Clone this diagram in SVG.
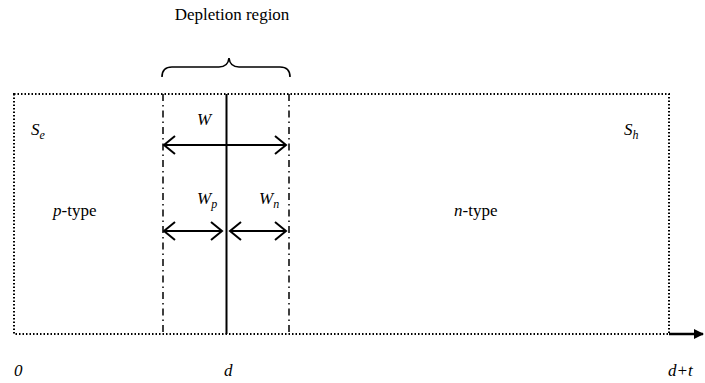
<svg xmlns="http://www.w3.org/2000/svg" width="705" height="383" viewBox="0 0 705 383">
<defs>
<marker id="tri" viewBox="0 0 10 10" refX="9" refY="5" markerWidth="10" markerHeight="10" markerUnits="userSpaceOnUse" orient="auto"><path d="M0,0L10,5L0,10Z" fill="#000"/></marker>
</defs>
<rect width="705" height="383" fill="#fff"/>
<g id="box"><rect x="14" y="94" width="655" height="240" fill="none" stroke="#000" stroke-width="2" stroke-dasharray="1.5 2"/></g>
<g id="boundaries" fill="none" stroke="#000">
<line x1="163" y1="94" x2="163" y2="334" stroke-width="1.5" stroke-dasharray="7 4 1.5 4"/>
<line x1="289" y1="94" x2="289" y2="334" stroke-width="1.5" stroke-dasharray="7 4 1.5 4"/>
<line x1="226.5" y1="94" x2="226.5" y2="334" stroke-width="2"/>
</g>
<g id="brace"><path d="M162,77 Q162,67 172,67 L219,67 Q228,67 229,58 Q230,67 239,67 L280,67 Q290,67 290,77" fill="none" stroke="#000" stroke-width="1.6"/></g>
<g id="connectors">
<g fill="none" stroke="#000" stroke-width="2">
<line x1="164" y1="145" x2="286" y2="145"/>
<path d="M175,136 L164,145 L175,154"/>
<path d="M275,136 L286,145 L275,154"/>
<line x1="164" y1="231" x2="222" y2="231"/>
<path d="M175,222 L164,231 L175,240"/>
<path d="M211,222 L222,231 L211,240"/>
<line x1="230" y1="231" x2="286" y2="231"/>
<path d="M241,222 L230,231 L241,240"/>
<path d="M275,222 L286,231 L275,240"/>
</g>
<line x1="669" y1="334" x2="703" y2="334" stroke="#000" stroke-width="2.5" marker-end="url(#tri)"/>
</g>
<g id="title"><text font-family="Times New Roman, Liberation Serif, serif" font-size="17" x="232" y="20" text-anchor="middle">Depletion region</text></g>
<g id="labels">
<text font-family="Times New Roman, Liberation Serif, serif" font-size="17" font-style="italic" x="31" y="135">S<tspan font-size="12" dy="4">e</tspan></text>
<text font-family="Times New Roman, Liberation Serif, serif" font-size="17" font-style="italic" x="197" y="125">W</text>
<text font-family="Times New Roman, Liberation Serif, serif" font-size="17" font-style="italic" x="197" y="204">W<tspan font-size="12" dy="4">p</tspan></text>
<text font-family="Times New Roman, Liberation Serif, serif" font-size="17" font-style="italic" x="259" y="204">W<tspan font-size="12" dy="4">n</tspan></text>
<text font-family="Times New Roman, Liberation Serif, serif" font-size="17" x="53" y="216"><tspan font-style="italic">p</tspan>-type</text>
<text font-family="Times New Roman, Liberation Serif, serif" font-size="17" x="454" y="216"><tspan font-style="italic">n</tspan>-type</text>
<text font-family="Times New Roman, Liberation Serif, serif" font-size="17" font-style="italic" x="624" y="135">S<tspan font-size="12" dy="4">h</tspan></text>
<text font-family="Times New Roman, Liberation Serif, serif" font-size="17" font-style="italic" x="14" y="376">0</text>
<text font-family="Times New Roman, Liberation Serif, serif" font-size="17" font-style="italic" x="224" y="376">d</text>
<text font-family="Times New Roman, Liberation Serif, serif" font-size="17" font-style="italic" x="668" y="376">d+t</text>
</g>
</svg>
